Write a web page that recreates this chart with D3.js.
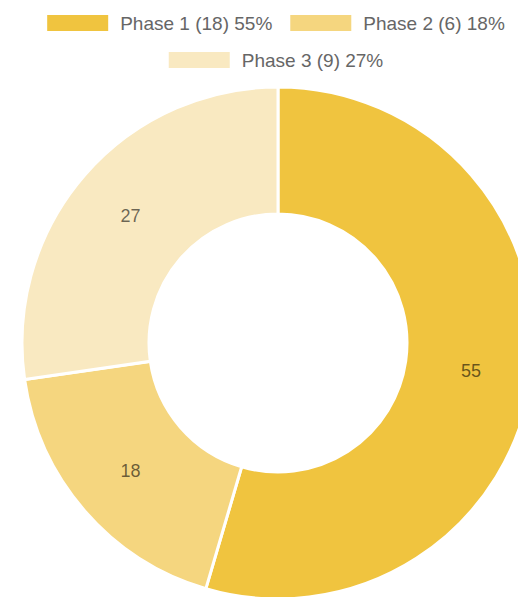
<!DOCTYPE html>
<html>
<head>
<meta charset="utf-8">
<script src="https://cdn.jsdelivr.net/npm/d3@7"></script>
<style>
  html, body { margin: 0; padding: 0; background: #fff; overflow: hidden; }
  svg { display: block; }
  .legend-text { font-family: "Liberation Sans", Arial, sans-serif; font-size: 19px; fill: #666; }
  .slice-label { font-family: "Liberation Sans", Arial, sans-serif; font-size: 18px; fill: #000; fill-opacity: 0.58; }
</style>
</head>
<body>
<div id="chart"></div>
<script>
const phases = ['Phase 1', 'Phase 2', 'Phase 3'];
const counts = [18, 6, 9];
const colors = ['#F0C43F', '#F5D67F', '#F9E9C1'];

const width = 518, height = 597;
const cx = 278, cy = 343;
const outerR = 256, innerR = 129;
const labelR = 195;

const total = d3.sum(counts);
const pct = counts.map((c) => Math.round(c / total * 100));
const data = phases.map((p, i) => ({ phase: p, count: counts[i], pct: pct[i], color: colors[i] }));

const svg = d3.select('#chart')
    .append('svg')
    .attr('width', width)
    .attr('height', height);

// legend, rows centred on the chart centre
const legend = svg.append('g');
const boxW = 61, boxH = 16, gap = 12, itemPad = 18, maxRow = 480;
const rowY = [23, 60];

const items = legend.selectAll('.item')
    .data(data)
    .enter()
    .append('g')
    .attr('class', 'item');

items.append('rect')
    .attr('width', boxW)
    .attr('height', boxH)
    .attr('y', -boxH / 2)
    .attr('fill', (d) => d.color);

items.append('text')
    .attr('class', 'legend-text')
    .attr('x', boxW + gap)
    .attr('dy', '0.35em')
    .text((d) => `${d.phase} (${d.count}) ${d.pct}%`);

const rows = [[]];
let rowWidth = 0;
items.each(function () {
    const w = boxW + gap + this.querySelector('text').getComputedTextLength();
    const add = rows[rows.length - 1].length ? itemPad + w : w;
    if (rowWidth + add > maxRow && rows[rows.length - 1].length) {
        rows.push([]);
        rowWidth = w;
    } else {
        rowWidth += add;
    }
    rows[rows.length - 1].push({ node: this, w: w });
});

rows.forEach((row, r) => {
    const tw = d3.sum(row, (d) => d.w) + itemPad * (row.length - 1);
    let x = cx - 2 - tw / 2;
    row.forEach((it) => {
        d3.select(it.node).attr('transform', `translate(${x}, ${rowY[r]})`);
        x += it.w + itemPad;
    });
});

// donut
const pie = d3.pie().sort(null).value((d) => d.count);
const arc = d3.arc().innerRadius(innerR).outerRadius(outerR);
const labelArc = d3.arc().innerRadius(labelR).outerRadius(labelR);

const g = svg.append('g').attr('transform', `translate(${cx}, ${cy})`);

g.selectAll('.slice')
    .data(pie(data))
    .enter()
    .append('path')
    .attr('class', 'slice')
    .attr('d', arc)
    .attr('fill', (d) => d.data.color)
    .attr('stroke', '#fff')
    .attr('stroke-width', 3);

g.selectAll('.slice-label')
    .data(pie(data))
    .enter()
    .append('text')
    .attr('class', 'slice-label')
    .attr('transform', (d) => `translate(${labelArc.centroid(d)})`)
    .attr('text-anchor', 'middle')
    .attr('dy', '0.35em')
    .text((d) => d.data.pct);
</script>
</body>
</html>
